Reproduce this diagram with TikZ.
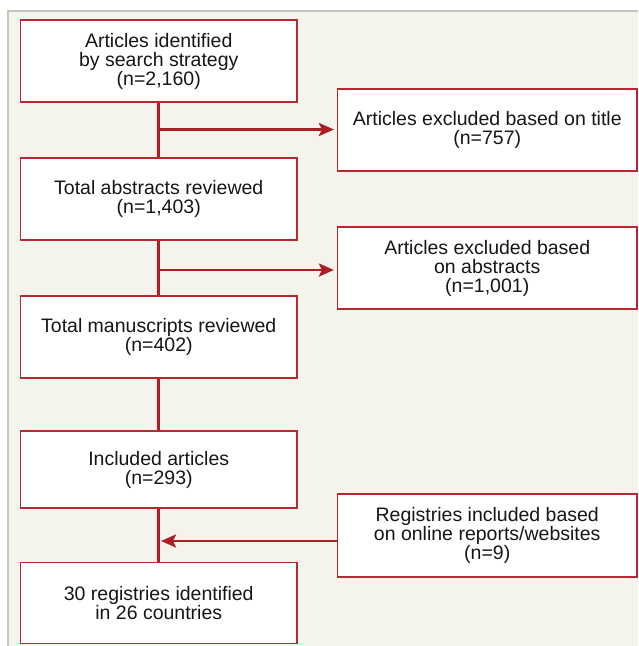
\documentclass[tikz,border=0pt]{standalone}
\usepackage{fontspec}
\setmainfont{Liberation Sans}
\usetikzlibrary{arrows.meta}
\definecolor{bgcol}{HTML}{F5F4EC}
\definecolor{framecol}{HTML}{C4C4C2}
\definecolor{boxred}{HTML}{B8282E}
\definecolor{linered}{HTML}{AA1E24}
\definecolor{txt}{HTML}{161616}
\begin{document}
\begin{tikzpicture}[x=1pt,y=-1pt,
  flowbox/.style={draw=boxred, line width=1.2pt, fill=white, text=txt,
    align=center, inner sep=0pt, font=\fontsize{19.5}{19}\selectfont},
  mainbox/.style={flowbox, minimum width=276.5pt},
  sidebox/.style={flowbox, minimum width=299.5pt},
  conn/.style={draw=linered, line width=2.6pt},
  arr/.style={conn, -{Stealth[length=15pt,width=13pt,inset=3pt]}}
]
\useasboundingbox (0,0) rectangle (638,646);
\fill[white] (0,0) rectangle (638,646);
\fill[bgcol] (8,11) rectangle (638,646);
\draw[framecol, line width=1.5pt] (8,646) -- (8,11) -- (638,11);

\node[mainbox, minimum height=82pt] (n1) at (158.75,61) {Articles identified\\by search strategy\\(n=2,160)};
\node[sidebox, minimum height=82pt] (x1) at (487.25,130) {Articles excluded based on title\\(n=757)};
\node[mainbox, minimum height=82pt] (n2) at (158.75,199) {Total abstracts reviewed\\(n=1,403)};
\node[sidebox, minimum height=82pt] (x2) at (487.25,268) {Articles excluded based\\on abstracts\\(n=1,001)};
\node[mainbox, minimum height=82pt] (n3) at (158.75,337) {Total manuscripts reviewed\\(n=402)};
\node[mainbox, minimum height=77pt] (n4) at (158.75,469.5) {Included articles\\(n=293)};
\node[sidebox, minimum height=83pt] (r) at (487.25,535.5) {Registries included based\\on online reports/websites\\(n=9)};
\node[mainbox, minimum height=80.5pt] (n5) at (158.75,603) {30 registries identified\\in 26 countries};

\coordinate (j1) at (159,129.5);
\coordinate (j2) at (159,270);
\coordinate (j3) at (159,541);

\draw[conn] (n1.south) -- (n2.north);
\draw[conn] (n2.south) -- (n3.north);
\draw[conn] (n3.south) -- (n4.north);
\draw[conn] (n4.south) -- (n5.north);
\draw[arr, shorten >=3pt] (j1) -- (j1 -| x1.west);
\draw[arr, shorten >=3pt] (j2) -- (j2 -| x2.west);
\draw[arr, shorten >=2pt] (j3 -| r.west) -- (j3);
\end{tikzpicture}
\end{document}
